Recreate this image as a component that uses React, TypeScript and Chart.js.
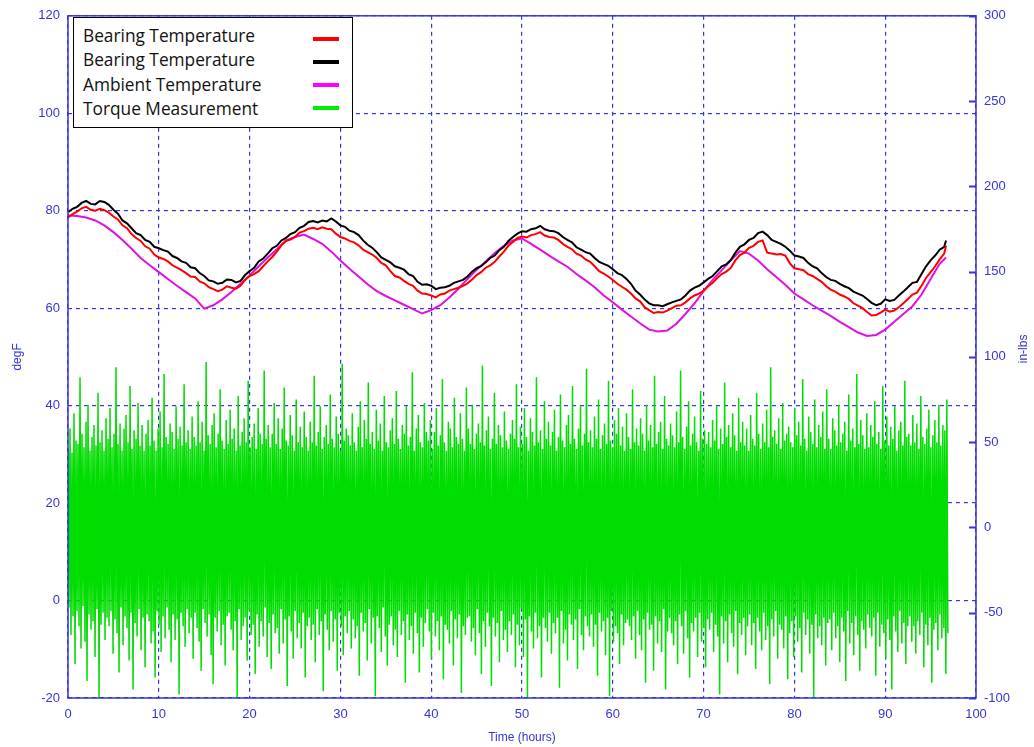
import React, { useEffect, useRef } from 'react';
import { Chart, registerables } from 'chart.js';

Chart.register(...registerables);

// ---- data ----
// sample times (hours) for the two bearing temperature traces
const bearingHours = [
  0, 0.5, 1, 1.5, 2, 2.5, 3, 3.5, 4, 4.5, 5, 5.5, 6, 6.5, 7, 7.5, 8, 8.5, 9, 9.5,
  10, 10.5, 11, 11.5, 12, 12.5, 13, 13.5, 14, 14.5, 15, 15.5, 16, 16.5, 17, 17.5, 18, 18.5, 19, 19.5,
  20, 20.5, 21, 21.5, 22, 22.5, 23, 23.5, 24, 24.5, 25, 25.5, 26, 26.5, 27, 27.5, 28, 28.5, 29, 29.5,
  30, 30.5, 31, 31.5, 32, 32.5, 33, 33.5, 34, 34.5, 35, 35.5, 36, 36.5, 37, 37.5, 38, 38.5, 39, 39.5,
  40, 40.5, 41, 41.5, 42, 42.5, 43, 43.5, 44, 44.5, 45, 45.5, 46, 46.5, 47, 47.5, 48, 48.5, 49, 49.5,
  50, 50.5, 51, 51.5, 52, 52.5, 53, 53.5, 54, 54.5, 55, 55.5, 56, 56.5, 57, 57.5, 58, 58.5, 59, 59.5,
  60, 60.5, 61, 61.5, 62, 62.5, 63, 63.5, 64, 64.5, 65, 65.5, 66, 66.5, 67, 67.5, 68, 68.5, 69, 69.5,
  70, 70.5, 71, 71.5, 72, 72.5, 73, 73.5, 74, 74.5, 75, 75.5, 76, 76.5, 77, 77.5, 78, 78.5, 79, 79.5,
  80, 80.5, 81, 81.5, 82, 82.5, 83, 83.5, 84, 84.5, 85, 85.5, 86, 86.5, 87, 87.5, 88, 88.5, 89, 89.5,
  90, 90.5, 91, 91.5, 92, 92.5, 93, 93.5, 94, 94.5, 95, 95.5, 96, 96.5, 96.7,
];

const bearingRed = [
  78.6, 79.3, 79.8, 80.5, 80.8, 80.2, 80.0, 80.4, 80.1, 79.6, 78.8, 78.2, 77.0, 76.4, 75.2, 74.4, 73.8, 72.7, 72.2, 71.0,
  70.4, 70.1, 69.6, 68.8, 68.3, 67.8, 67.2, 66.5, 66.4, 65.5, 65.1, 64.3, 63.9, 63.5, 63.8, 64.5, 64.2, 64.0, 64.6, 65.8,
  66.6, 67.0, 67.6, 68.6, 69.6, 70.5, 71.6, 72.9, 73.8, 74.1, 74.6, 75.5, 75.8, 76.3, 76.5, 76.2, 76.6, 76.3, 76.2, 75.3,
  74.6, 74.3, 73.8, 73.5, 72.9, 72.0, 71.5, 71.0, 70.3, 69.3, 68.8, 67.6, 66.6, 66.3, 65.6, 65.0, 64.6, 63.6, 63.0, 62.9,
  62.6, 62.2, 62.8, 63.0, 63.6, 63.9, 64.2, 64.6, 65.1, 65.9, 66.8, 67.4, 68.3, 68.8, 69.5, 70.6, 71.6, 72.8, 73.6, 74.4,
  74.7, 74.5, 75.0, 75.2, 75.6, 74.9, 74.6, 74.5, 74.0, 73.2, 72.6, 72.1, 71.2, 70.8, 70.0, 69.5, 68.6, 67.6, 67.1, 66.5,
  65.8, 65.0, 64.4, 63.8, 63.0, 62.0, 61.4, 60.2, 59.6, 59.0, 59.2, 59.1, 59.5, 60.0, 60.5, 60.6, 61.2, 62.0, 62.6, 63.0,
  63.6, 64.5, 65.2, 66.2, 67.0, 67.5, 68.3, 69.8, 70.9, 71.4, 72.4, 72.8, 73.6, 73.9, 71.4, 71.2, 71.0, 71.1, 70.8, 69.2,
  68.2, 68.0, 67.8, 67.0, 66.6, 66.0, 65.4, 64.5, 63.8, 63.4, 62.8, 62.4, 61.9, 61.0, 60.5, 60.0, 59.2, 58.5, 58.6, 59.1,
  59.7, 59.3, 59.5, 60.2, 61.0, 61.9, 62.8, 63.2, 64.6, 66.2, 67.4, 68.6, 70.0, 71.2, 72.8,
];

const bearingBlack = [
  79.7, 80.4, 80.8, 81.6, 82.0, 81.4, 81.3, 82.0, 81.8, 81.2, 80.2, 79.4, 78.0, 77.4, 76.4, 75.4, 75.0, 74.0, 73.6, 72.6,
  72.3, 71.9, 71.6, 70.7, 70.3, 69.6, 69.3, 68.4, 68.2, 67.2, 66.6, 65.7, 65.5, 65.0, 65.2, 65.9, 65.8, 65.3, 65.6, 66.8,
  67.6, 68.3, 69.6, 70.2, 71.2, 72.3, 72.8, 73.9, 74.4, 75.2, 75.6, 76.5, 76.9, 77.7, 77.9, 77.6, 78.0, 77.8, 78.4, 77.8,
  77.0, 76.7, 75.9, 75.6, 75.0, 73.9, 73.0, 72.4, 71.5, 70.4, 69.9, 69.4, 68.6, 68.3, 67.9, 67.0, 66.6, 65.4, 64.8, 64.9,
  64.6, 63.9, 64.2, 64.3, 64.6, 65.2, 65.5, 65.8, 66.5, 67.5, 68.2, 68.6, 69.4, 70.3, 70.8, 71.9, 72.6, 73.8, 74.6, 75.3,
  75.8, 75.7, 76.2, 76.4, 76.9, 76.2, 75.9, 75.8, 75.4, 74.6, 74.0, 73.5, 72.5, 72.0, 71.5, 71.2, 70.3, 69.5, 69.1, 68.7,
  68.0, 67.2, 66.8, 66.0, 65.0, 63.6, 62.8, 61.8, 61.0, 60.6, 60.6, 60.4, 60.8, 61.2, 61.5, 61.8, 62.6, 63.6, 64.2, 64.6,
  65.3, 66.0, 66.6, 67.6, 68.6, 69.0, 69.9, 71.4, 72.6, 73.1, 74.0, 74.4, 75.4, 75.7, 75.0, 74.0, 73.6, 73.2, 72.6, 71.8,
  70.8, 70.6, 70.3, 69.3, 68.6, 68.2, 67.2, 66.4, 65.8, 65.6, 65.0, 64.5, 64.1, 63.4, 63.0, 62.6, 61.9, 61.1, 60.6, 60.9,
  61.8, 61.5, 61.7, 62.6, 63.4, 64.3, 65.2, 65.4, 67.0, 68.6, 69.8, 70.8, 72.0, 72.6, 73.9,
];

// sample times (hours) for the ambient temperature trace
const ambientHours = [
  0, 1, 2, 3, 4, 5, 6, 7, 8, 9,
  10, 11, 12, 13, 14, 15, 16, 17, 18, 19,
  20, 21, 22, 23, 24, 25, 26, 27, 28, 29,
  30, 31, 32, 33, 34, 35, 36, 37, 38, 39,
  40, 41, 42, 43, 44, 45, 46, 47, 48, 49,
  50, 51, 52, 53, 54, 55, 56, 57, 58, 59,
  60, 61, 62, 63, 64, 65, 66, 67, 68, 69,
  70, 71, 72, 73, 74, 75, 76, 77, 78, 79,
  80, 81, 82, 83, 84, 85, 86, 87, 88, 89,
  90, 91, 92, 93, 94, 95, 96, 96.7,
];

const ambient = [
  79.0, 78.9, 78.6, 78.0, 77.0, 75.6, 74.0, 72.2, 70.3, 68.8,
  67.4, 66.0, 64.6, 63.3, 62.0, 59.9, 60.6, 61.8, 63.3, 65.0,
  66.7, 68.6, 70.4, 72.1, 73.9, 74.6, 75.1, 74.2, 73.2, 71.6,
  69.8, 68.1, 66.5, 64.9, 63.5, 62.5, 61.6, 60.7, 59.8, 58.9,
  59.6, 60.6, 62.2, 64.0, 66.0, 67.9, 69.6, 71.3, 72.8, 73.9,
  74.3, 73.2, 72.0, 70.8, 69.6, 68.5, 67.0, 65.7, 64.3, 62.6,
  61.2, 59.7, 58.3, 56.9, 55.6, 55.2, 55.4, 56.8, 58.8, 61.0,
  63.5, 65.8, 67.8, 69.8, 71.7, 71.2, 69.8, 68.0, 66.4, 64.8,
  63.0, 61.8, 60.6, 59.5, 58.4, 57.2, 56.1, 55.0, 54.3, 54.5,
  55.6, 57.2, 58.8, 60.4, 62.8, 66.0, 69.1, 70.4,
];

// torque (in-lbs): successive upper and lower swings of the dense signal
const torquePeaks = [
  46, 58, 44, 67, 51, 49, 88, 55, 47, 62, 72, 45, 53, 60, 48, 79, 50, 57, 45, 64,
  52, 70, 47, 55, 94, 49, 61, 45, 58, 66, 50, 83, 46, 57, 52, 73, 48, 60, 45, 55,
  63, 48, 76, 51, 45, 58, 68, 47, 90, 53, 49, 61, 56, 46, 71, 52, 59, 48, 84, 50,
  57, 46, 65, 53, 48, 74, 50, 62, 45, 97, 54, 49, 60, 67, 47, 55, 81, 51, 46, 63,
  49, 69, 52, 58, 45, 77, 48, 56, 64, 50, 86, 47, 53, 61, 46, 70, 55, 49, 92, 52,
  60, 47, 55, 73, 49, 64, 46, 58, 82, 51, 48, 66, 54, 45, 75, 50, 59, 47, 68, 53,
  45, 62, 50, 89, 48, 56, 71, 46, 53, 60, 49, 78, 52, 47, 65, 55, 45, 96, 51, 58,
  54, 48, 67, 50, 45, 59, 74, 47, 63, 52, 85, 49, 56, 46, 69, 51, 61, 45, 77, 50,
  47, 57, 64, 49, 80, 52, 46, 60, 55, 71, 48, 53, 91, 45, 58, 66, 50, 47, 73, 56,
  51, 63, 46, 56, 70, 48, 54, 87, 50, 45, 62, 58, 47, 76, 53, 49, 67, 52, 45, 82,
  58, 49, 72, 46, 55, 61, 50, 95, 48, 57, 65, 46, 52, 79, 49, 60, 54, 47, 68, 51,
  46, 55, 63, 52, 84, 47, 59, 49, 70, 53, 45, 64, 56, 48, 88, 50, 57, 46, 74, 52,
  62, 48, 56, 69, 45, 53, 78, 51, 47, 60, 66, 49, 83, 52, 46, 58, 71, 48, 55, 93,
  50, 57, 47, 65, 52, 75, 46, 54, 61, 49, 86, 51, 47, 63, 55, 70, 48, 59, 45, 67,
  53, 46, 81, 50, 58, 48, 64, 55, 45, 72, 51, 60, 47, 89, 49, 56, 62, 46, 77, 52,
  48, 61, 54, 47, 68, 50, 92, 53, 46, 59, 74, 48, 55, 65, 50, 45, 80, 52, 57, 49,
  56, 47, 63, 51, 71, 46, 58, 49, 85, 53, 60, 47, 67, 54, 45, 76, 50, 62, 48, 58,
  45, 66, 52, 48, 79, 55, 46, 61, 50, 69, 47, 94, 53, 57, 49, 64, 46, 73, 51, 55,
  59, 50, 47, 70, 54, 62, 48, 87, 52, 45, 65, 56, 49, 75, 47, 60, 53, 68, 46, 81,
  52, 46, 64, 57, 48, 72, 50, 55, 62, 45, 78, 51, 58, 47, 90, 49, 63, 54, 46, 67,
  47, 60, 53, 74, 49, 56, 46, 83, 51, 65, 48, 59, 52, 71, 45, 57, 62, 48, 86, 53,
  55, 48, 66, 50, 61, 46, 77, 53, 49, 58, 69, 47, 54, 63, 50, 72, 48, 60, 57, 75,
];

const torqueTroughs = [
  -47, -63, -52, -80, -49, -58, -71, -46, -67, -90, -51, -60, -55, -76, -48, -100, -57, -50, -66, -53,
  -58, -49, -74, -54, -62, -85, -47, -69, -52, -59, -78, -50, -95, -56, -64, -48, -72, -53, -82, -51,
  -55, -68, -61, -88, -49, -57, -73, -52, -65, -47, -60, -79, -51, -66, -54, -98, -50, -58, -70, -48,
  -62, -53, -77, -50, -59, -67, -84, -48, -56, -64, -51, -75, -92, -53, -61, -49, -69, -57, -81, -52,
  -50, -60, -72, -55, -100, -48, -66, -58, -53, -78, -49, -63, -57, -86, -51, -70, -55, -64, -47, -76,
  -56, -83, -51, -62, -59, -74, -48, -68, -54, -93, -52, -61, -77, -49, -65, -56, -71, -50, -88, -58,
  -53, -66, -57, -79, -48, -63, -55, -96, -51, -60, -72, -49, -67, -54, -84, -50, -58, -75, -52, -62,
  -49, -71, -54, -65, -58, -87, -50, -61, -56, -78, -48, -68, -53, -99, -52, -59, -73, -47, -64, -81,
  -57, -52, -69, -60, -76, -49, -63, -55, -91, -51, -66, -58, -74, -50, -62, -85, -53, -70, -56, -48,
  -61, -77, -50, -64, -55, -72, -52, -89, -57, -60, -68, -49, -81, -54, -65, -51, -97, -58, -63, -53,
  -52, -67, -59, -75, -48, -62, -86, -55, -70, -50, -58, -93, -53, -64, -56, -79, -49, -66, -60, -73,
  -55, -63, -51, -82, -57, -69, -48, -76, -54, -100, -52, -61, -71, -50, -65, -58, -88, -53, -59, -67,
  -50, -74, -56, -62, -53, -94, -49, -68, -60, -78, -51, -57, -66, -54, -83, -48, -63, -72, -52, -58,
  -64, -51, -70, -57, -87, -50, -61, -55, -75, -53, -99, -49, -67, -58, -62, -80, -51, -69, -56, -54,
  -58, -66, -52, -77, -49, -63, -72, -54, -91, -50, -60, -57, -84, -52, -68, -55, -73, -48, -95, -61,
  -53, -62, -69, -55, -80, -51, -58, -74, -49, -65, -88, -56, -61, -53, -76, -50, -67, -59, -82, -54,
  -60, -50, -73, -57, -64, -98, -52, -68, -55, -79, -51, -62, -70, -49, -86, -56, -63, -53, -75, -58,
  -51, -69, -56, -83, -53, -61, -72, -50, -66, -58, -92, -54, -64, -49, -77, -57, -60, -71, -52, -89,
  -62, -55, -76, -52, -67, -59, -85, -50, -63, -54, -74, -57, -100, -51, -65, -58, -69, -53, -81, -56,
  -54, -72, -50, -65, -58, -79, -53, -61, -90, -49, -68, -56, -75, -52, -63, -84, -55, -60, -71, -51,
  -59, -64, -53, -87, -50, -70, -57, -62, -77, -54, -66, -95, -52, -61, -73, -49, -68, -56, -80, -58,
  -52, -67, -58, -74, -55, -63, -50, -82, -57, -69, -53, -91, -60, -56, -72, -51, -65, -59, -86, -62,
];

const torqueEndHour = 96.9;

const legendItems = [
  { label: 'Bearing Temperature', color: '#ff0000' },
  { label: 'Bearing Temperature', color: '#000000' },
  { label: 'Ambient Temperature', color: '#ff00ff' },
  { label: 'Torque Measurement', color: '#00ee00' },
];

const BLUE = '#3535d8';
const TICK_FONT = { family: '"Liberation Sans", Arial, sans-serif', size: 13 };

export default function App() {
  const ref = useRef<HTMLCanvasElement>(null);

  useEffect(() => {
    document.body.style.margin = '0';
    const canvas = ref.current;
    if (!canvas) return;

    const toXY = (xs: number[], ys: number[]) => ys.map((y, i) => ({ x: xs[i], y }));
    const n = torquePeaks.length * 2;
    const torque: { x: number; y: number }[] = [];
    torquePeaks.forEach((p, i) => {
      torque.push({ x: ((2 * i) * torqueEndHour) / (n - 1), y: p });
      torque.push({ x: ((2 * i + 1) * torqueEndHour) / (n - 1), y: torqueTroughs[i] });
    });

    const framePlugin = {
      id: 'frameAndTitles',
      afterDraw(chart: any) {
        const { ctx, chartArea: a } = chart;
        ctx.save();
        ctx.strokeStyle = BLUE;
        ctx.lineWidth = 1.5;
        ctx.setLineDash([]);
        ctx.strokeRect(a.left, a.top, a.right - a.left, a.bottom - a.top);
        // inward tick marks on the right axis
        const y1 = chart.scales.y1;
        ctx.lineWidth = 2;
        ctx.beginPath();
        y1.ticks.forEach((t: any) => {
          const py = Math.round(y1.getPixelForValue(t.value)) + 0.5;
          ctx.moveTo(a.right - 7, py);
          ctx.lineTo(a.right, py);
        });
        ctx.stroke();
        // axis titles
        ctx.fillStyle = BLUE;
        ctx.font = '12px "Liberation Sans", Arial, sans-serif';
        ctx.textAlign = 'center';
        ctx.textBaseline = 'middle';
        ctx.fillText('Time (hours)', (a.left + a.right) / 2, 738);
        const midY = (a.top + a.bottom) / 2;
        ctx.save();
        ctx.translate(18, midY);
        ctx.rotate(-Math.PI / 2);
        ctx.fillText('degF', 0, 0);
        ctx.restore();
        ctx.save();
        ctx.translate(1024, midY - 8);
        ctx.rotate(-Math.PI / 2);
        ctx.fillText('in-lbs', 0, 0);
        ctx.restore();
        ctx.restore();
      },
    };

    const chart = new Chart(canvas, {
      type: 'line',
      data: {
        datasets: [
          {
            label: 'Bearing Temperature',
            data: toXY(bearingHours, bearingRed),
            borderColor: '#ff0000',
            borderWidth: 2,
            yAxisID: 'y',
          },
          {
            label: 'Bearing Temperature',
            data: toXY(bearingHours, bearingBlack),
            borderColor: '#000000',
            borderWidth: 2,
            yAxisID: 'y',
          },
          {
            label: 'Ambient Temperature',
            data: toXY(ambientHours, ambient),
            borderColor: '#e010e0',
            borderWidth: 2,
            yAxisID: 'y',
          },
          {
            label: 'Torque Measurement',
            data: torque,
            borderColor: '#00dd00',
            borderWidth: 1.5,
            yAxisID: 'y1',
          },
        ],
      },
      options: {
        animation: false,
        responsive: false,
        maintainAspectRatio: false,
        layout: { padding: { top: 15, left: 0, right: 0, bottom: 0 } },
        elements: { point: { radius: 0 }, line: { tension: 0 } },
        plugins: { legend: { display: false }, tooltip: { enabled: false } },
        scales: {
          x: {
            type: 'linear',
            position: 'bottom',
            min: 0,
            max: 100,
            afterFit: (s: any) => { s.height = 49; },
            ticks: { stepSize: 10, color: BLUE, font: TICK_FONT, padding: 9, maxRotation: 0 },
            grid: { color: BLUE, lineWidth: 1.2, drawTicks: false },
            border: { display: false, dash: [4, 4] },
          },
          y: {
            type: 'linear',
            position: 'left',
            min: -20,
            max: 120,
            afterFit: (s: any) => { s.width = 68; },
            ticks: { stepSize: 20, color: BLUE, font: TICK_FONT, padding: 8 },
            grid: { color: BLUE, lineWidth: 1.2, drawTicks: false },
            border: { display: false, dash: [4, 4] },
          },
          y1: {
            type: 'linear',
            position: 'right',
            min: -100,
            max: 300,
            afterFit: (s: any) => { s.width = 58; },
            ticks: { stepSize: 50, color: BLUE, font: TICK_FONT, padding: 8 },
            grid: { display: true, color: BLUE, drawOnChartArea: false, drawTicks: false },
            border: { display: false },
          },
        },
      },
      plugins: [framePlugin],
    } as any);

    return () => chart.destroy();
  }, []);

  return (
    <div style={{ position: 'relative', width: 1034, height: 747, background: '#fff' }}>
      <canvas ref={ref} width={1034} height={747} style={{ display: 'block', width: 1034, height: 747 }} />
      <div
        style={{
          position: 'absolute',
          left: 73,
          top: 17,
          width: 280,
          height: 111,
          boxSizing: 'border-box',
          border: '1.5px solid #000',
          background: '#fff',
        }}
      />
      {legendItems.map((it, i) => (
        <React.Fragment key={i}>
          <div
            style={{
              position: 'absolute',
              left: 83,
              top: 24.2 + i * 24.2,
              fontFamily: '"Open Sans", sans-serif',
              fontSize: 17.3,
              lineHeight: 'normal',
              color: '#111',
              whiteSpace: 'nowrap',
            }}
          >
            {it.label}
          </div>
          <div
            style={{
              position: 'absolute',
              left: 313,
              top: 37 + i * 23,
              width: 26,
              height: 4,
              background: it.color,
            }}
          />
        </React.Fragment>
      ))}
    </div>
  );
}
